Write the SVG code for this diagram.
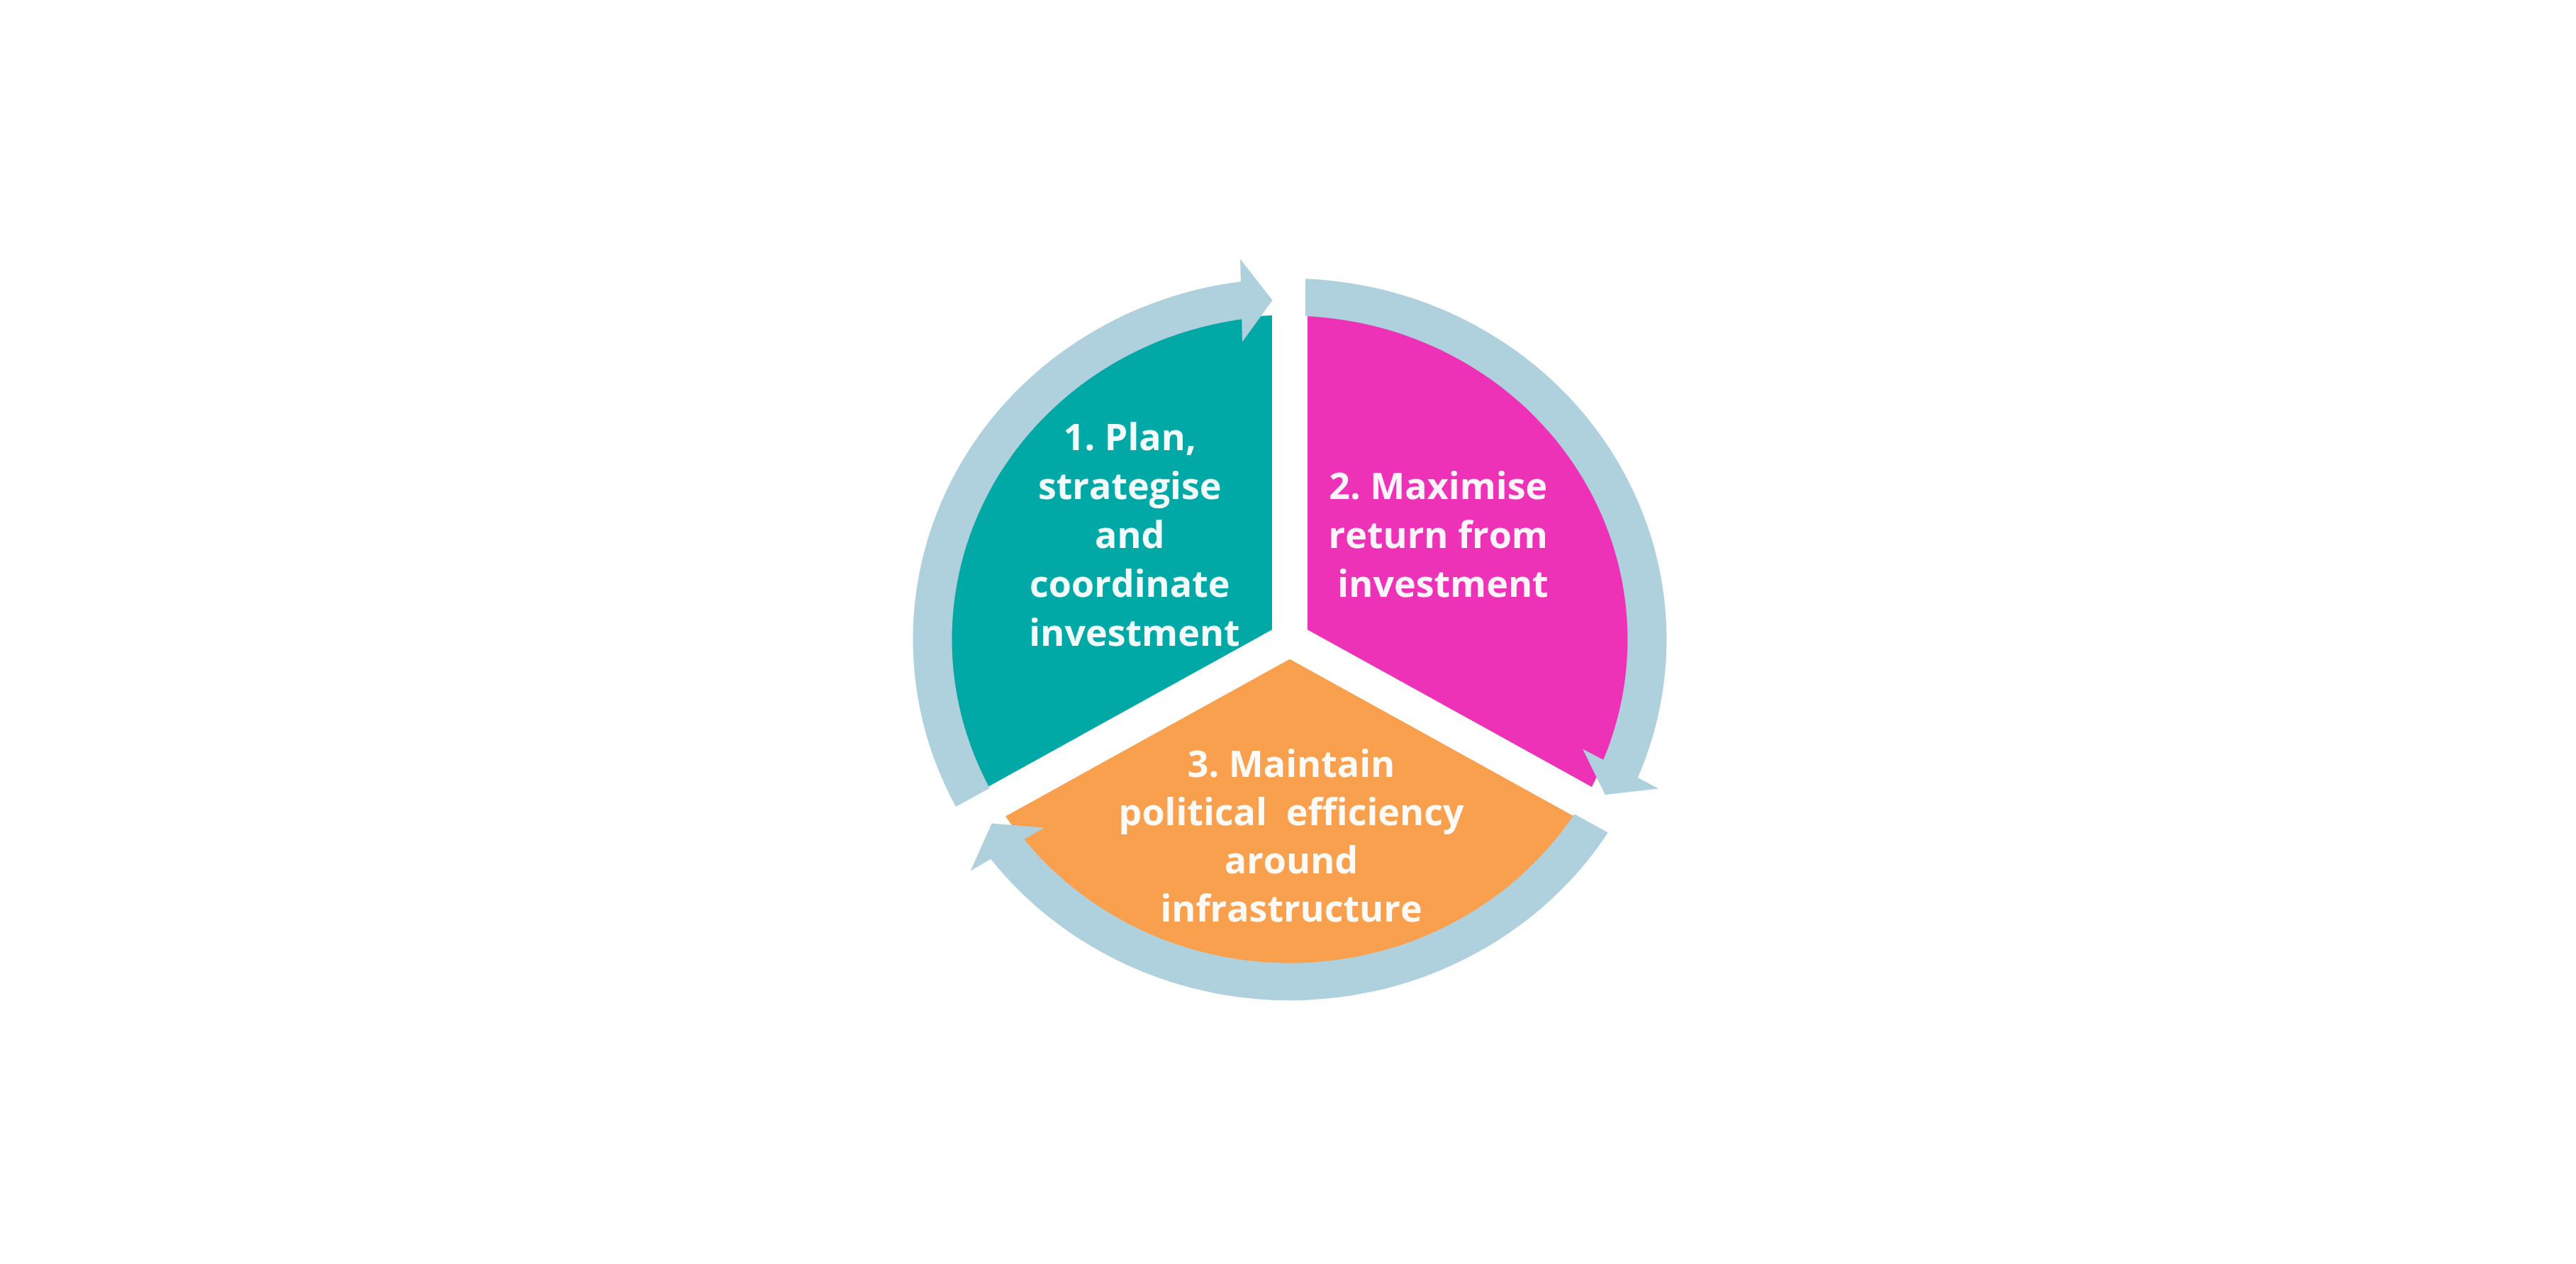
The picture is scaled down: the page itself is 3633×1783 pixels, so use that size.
<svg xmlns="http://www.w3.org/2000/svg" width="3633" height="1783" viewBox="0 0 3633 1783">
  <style>
    .lbl { font-family: "Open Sans", "Liberation Sans", sans-serif; font-weight: 700; font-size: 52px; fill: #ffffff; fill-opacity: 0.95; text-anchor: middle; }
    .ring { fill: #AFD0DD; }
  </style>
  <defs>
    <path id="ringArc" d="M 22,-531.04 A 531.5 531.5 0 0 1 490.9,203.65 L 520.2,219.6 L 444.7,228.6 L 413.0,161.2 L 442.3,177.1 A 476.5 476.5 0 0 0 22,-476.0 Z"/>
  </defs>
  <rect x="0" y="0" width="3633" height="1783" fill="#ffffff"/>

  <g id="node1">
    <path transform="translate(1819,902) scale(1,0.958)" fill="#00A8A6" d="M -25,-14.43 L -425.89,217.03 A 478 478 0 0 1 -25,-477.35 Z"/>
    <text class="lbl">
      <tspan x="1600" y="635">1. Plan,</tspan>
      <tspan x="1600" y="704">strategise</tspan>
      <tspan x="1600" y="773">and</tspan>
      <tspan x="1600" y="842">coordinate</tspan>
      <tspan x="1600" y="911">investment</tspan>
    </text>
  </g>

  <g id="node2">
    <path transform="translate(1819,902) scale(1,0.958)" fill="#EE32B8" d="M 25,-14.43 L 25,-477.35 A 478 478 0 0 1 425.89,217.03 Z"/>
    <text class="lbl">
      <tspan x="2035" y="704">2. Maximise</tspan>
      <tspan x="2035" y="773">return from</tspan>
      <tspan x="2035" y="842">investment</tspan>
    </text>
  </g>

  <g id="node3">
    <path transform="translate(1819,902) scale(1,0.958)" fill="#F9A04F" d="M 0,28.87 L 400.89,260.33 A 478 478 0 0 1 -400.9,260.31 Z"/>
    <text class="lbl" xml:space="preserve"><tspan x="1821" y="1096">3. Maintain</tspan><tspan x="1821" y="1164">political  efficiency</tspan><tspan x="1821" y="1232">around</tspan><tspan x="1821" y="1300">infrastructure</tspan></text>
  </g>

  <g id="connectors" transform="translate(1819,902) scale(1,0.958)">
    <use href="#ringArc" class="ring"/>
    <use href="#ringArc" class="ring" transform="rotate(120)"/>
    <use href="#ringArc" class="ring" transform="rotate(240)"/>
  </g>
</svg>
